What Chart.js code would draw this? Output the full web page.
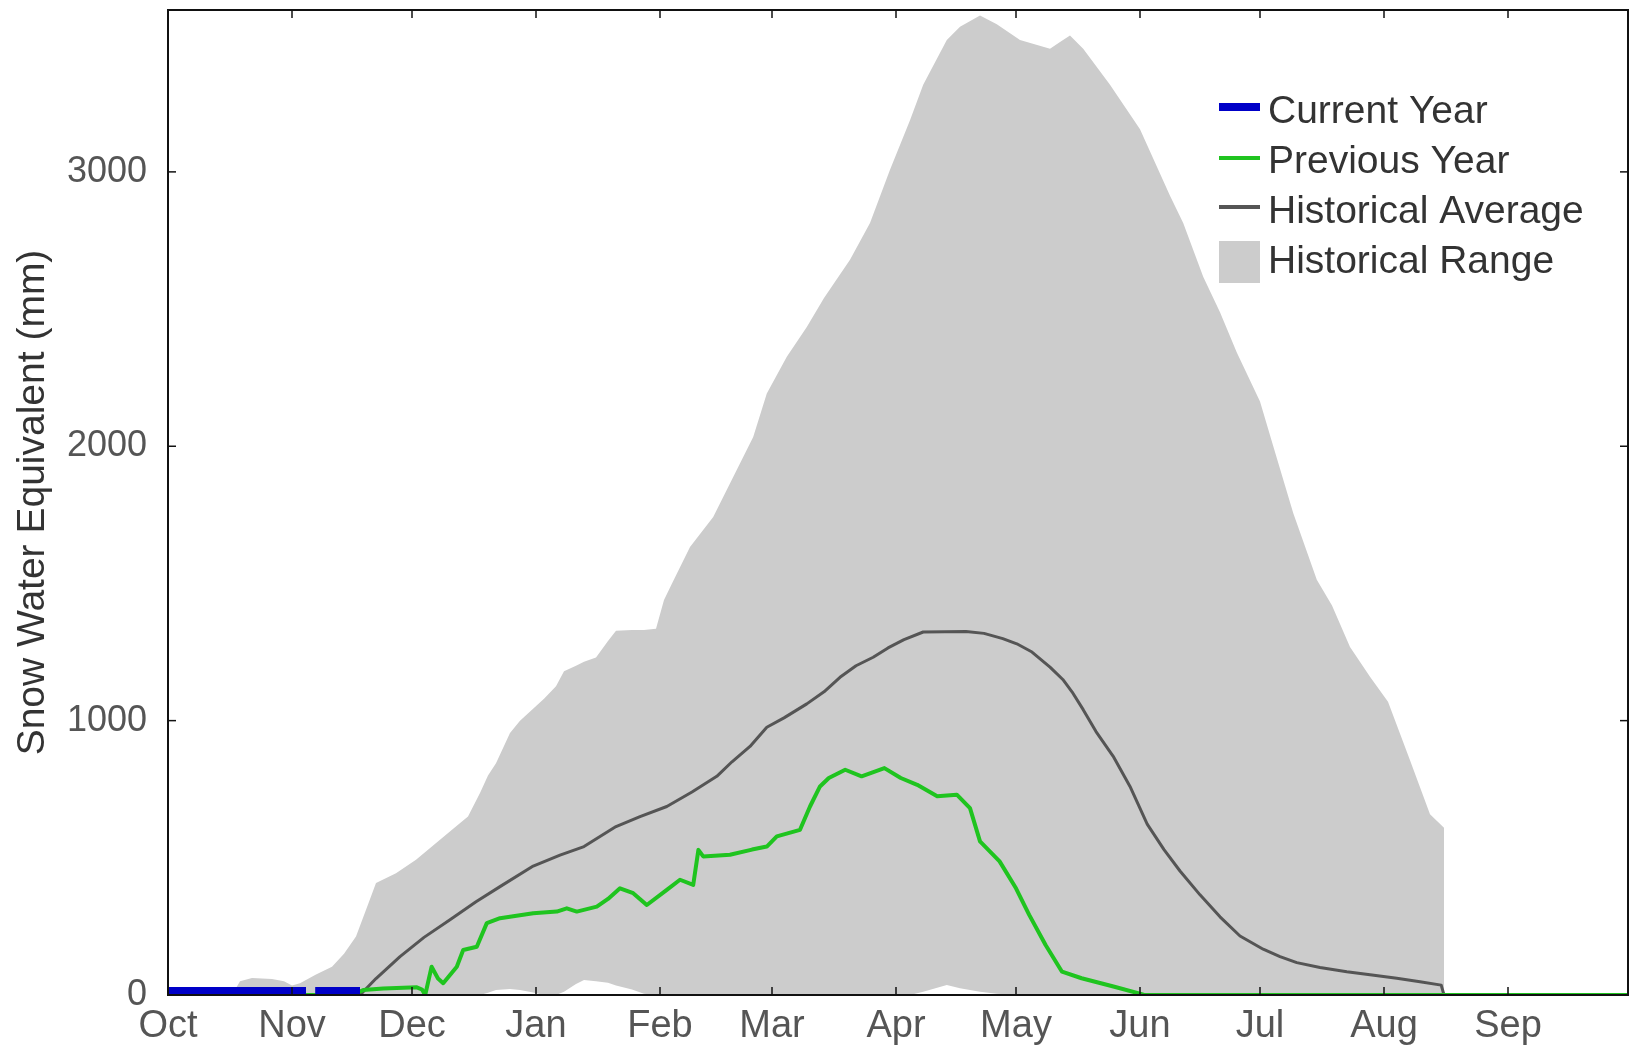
<!DOCTYPE html>
<html>
<head>
<meta charset="utf-8">
<script src="https://cdn.jsdelivr.net/npm/chart.js@4.4.1/dist/chart.umd.min.js"></script>
<style>
  html, body { margin: 0; padding: 0; background: #ffffff; }
  #wrap { width: 1636px; height: 1045px; position: relative; }
</style>
</head>
<body>
<div id="wrap"><canvas id="c" width="1636" height="1045"></canvas></div>
<script>
// ---------------- DATA (day index from Oct 1, values in mm) ----------------
const monthLabels = ['Oct','Nov','Dec','Jan','Feb','Mar','Apr','May','Jun','Jul','Aug','Sep'];
const monthStartDays = [0,31,61,92,123,151,182,212,243,273,304,335,365];
const yTickValues = [0,1000,2000,3000];

const currentDays   = [0, 34.5, 35.5, 36.8, 48];
const currentValues = [0, 0, null, 0, 0];

const prevDays = [0,46,48.8,53.8,62.2,63.5,64.3,65.9,67.5,68.8,72.2,73.8,77.2,79.7,83,91.3,97.2,99.7,102.2,107.2,110,113,116.3,119.7,124.7,128,131.3,132.6,133.8,140.5,146,149.7,152.2,158,160.5,163,165.2,169.3,173.4,179.1,183.2,187.3,192.3,197.2,200.5,203,207.9,212,215.3,219.4,223.5,228.4,236.6,243.2,244,365];
const prevValues = [0,0,18,24,28,20,0,103,60,43,103,164,176,262,280,298,304,316,304,322,350,389,371,328,383,420,401,529,505,511,530,541,578,602,687,760,791,821,797,827,791,766,724,730,681,560,487,389,292,182,85,61,30,4,0,0];

const avgDays = [48,52,58,64,70.5,77,83,91.3,98,104,112,118,124.7,131,137.2,141,145.5,149.7,154,159.7,164,168,172,176.3,180,184,188.8,199.5,204,208.7,212.2,216,220.5,223.7,226,228.8,232,236.3,240.5,244.8,249,253,258,263,268,273.8,278,282.2,288,294.7,301,307.2,313,318.3,319];
const avgValues = [0,60,140,210,274,340,395,470,510,541,614,650,687,740,797,850,906,976,1010,1061,1105,1158,1200,1231,1265,1295,1323,1325,1318,1299,1280,1250,1195,1150,1105,1040,960,870,760,623,530,452,365,285,215,167,140,118,100,85,73,61,48,36,0];

const rangeDays = [0,16,18,21,26,29,31,33,37,41,44,47,50,52,57,62,68,71,75,78,80,82,85.5,88,91,94,97,99,102,104,107,110,112,116,119,122,124,126,130.5,136.3,141.3,146.3,149.7,154.7,159.7,164,170.5,175.5,180.5,185.5,188.8,194.7,198,203,207.2,213,220.5,223,225.5,228.8,235.5,243,250.5,253.8,258.8,263,267.2,273,276.3,281.3,287.2,291,295.5,300.5,305,310.5,315.5,319];
const rangeMax  = [0,0,50,62,58,50,35,43,75,103,150,213,330,408,444,493,566,602,651,736,800,845,955,1000,1040,1080,1125,1180,1200,1215,1230,1290,1328,1330,1330,1335,1440,1500,1633,1742,1888,2034,2192,2326,2435,2540,2680,2814,3008,3188,3318,3481,3529,3570,3538,3481,3449,3473,3497,3449,3318,3155,2913,2814,2618,2488,2342,2163,2001,1757,1513,1420,1268,1160,1069,856,659,610];
const rangeMin  = [0,0,0,0,0,0,0,0,0,0,0,0,0,0,0,0,0,0,0,0,8,18,22,18,10,0,0,12,40,55,50,45,35,20,5,0,0,0,0,0,0,0,0,0,0,0,0,0,0,0,12,36,25,12,5,0,0,0,0,0,0,0,0,0,0,0,0,0,0,0,0,0,0,0,0,0,0,0];

const seriesLabels = ['Current Year','Previous Year','Historical Average','Historical Range'];

// ---------------- CHART ----------------
const pts = (xs, ys) => xs.map((d, i) => ({ x: d, y: ys[i] }));
const FONT = "'Liberation Sans', Arial, Helvetica, sans-serif";
Chart.defaults.font.family = FONT;

const framePlugin = {
  id: 'frame',
  afterDatasetsDraw(chart) {
    const { ctx, chartArea: a, scales: { x, y } } = chart;
    ctx.save();
    ctx.strokeStyle = '#111111';
    ctx.lineWidth = 2;
    ctx.strokeRect(a.left, a.top, a.right - a.left, a.bottom - a.top);
    ctx.lineWidth = 1.5;
    const seg = (x1, y1, x2, y2) => { ctx.beginPath(); ctx.moveTo(x1, y1); ctx.lineTo(x2, y2); ctx.stroke(); };
    x.ticks.forEach(t => {
      const px = x.getPixelForValue(t.value);
      if (px <= a.left + 1 || px >= a.right - 1) return;
      seg(px, a.bottom, px, a.bottom - 8);
      seg(px, a.top, px, a.top + 8);
    });
    y.ticks.forEach(t => {
      const py = y.getPixelForValue(t.value);
      if (py >= a.bottom - 1 || py <= a.top + 1) return;
      seg(a.left, py, a.left + 8, py);
      seg(a.right, py, a.right - 8, py);
    });
    ctx.restore();
  }
};

const legendPlugin = {
  id: 'cornerLegend',
  afterDraw(chart, args, o) {
    const { ctx, chartArea: a } = chart;
    const x0 = a.right - o.offsetRight;
    const textX = x0 + o.markerWidth + o.gap;
    ctx.save();
    ctx.font = o.fontSize + 'px ' + FONT;
    ctx.textBaseline = 'middle';
    ctx.textAlign = 'left';
    let row = 0;
    chart.data.datasets.forEach(ds => {
      if (!ds.label) return;
      const cy = a.top + o.firstRow + row * o.rowGap;
      const m = ds.legendMarker;
      if (m.type === 'box') {
        ctx.fillStyle = ds.backgroundColor;
        ctx.fillRect(x0, cy - m.size / 2, o.markerWidth, m.size);
      } else {
        ctx.strokeStyle = ds.borderColor;
        ctx.lineWidth = m.thickness;
        ctx.beginPath();
        ctx.moveTo(x0, cy + m.dy);
        ctx.lineTo(x0 + o.markerWidth, cy + m.dy);
        ctx.stroke();
      }
      ctx.fillStyle = o.color;
      ctx.fillText(ds.label, textX, cy);
      row++;
    });
    ctx.restore();
  }
};

new Chart(document.getElementById('c'), {
  type: 'line',
  data: {
    datasets: [
      { label: seriesLabels[0], data: pts(currentDays, currentValues), borderColor: '#0000c8', borderWidth: 16,
        pointRadius: 0, fill: false, clip: 0, spanGaps: false, legendMarker: { type: 'line', thickness: 8, dy: -5 } },
      { label: seriesLabels[1], data: pts(prevDays, prevValues), borderColor: '#1fc41f', borderWidth: 4,
        pointRadius: 0, fill: false, borderJoinStyle: 'round', legendMarker: { type: 'line', thickness: 4, dy: -4 } },
      { label: seriesLabels[2], data: pts(avgDays, avgValues), borderColor: '#555555', borderWidth: 3,
        pointRadius: 0, fill: false, borderJoinStyle: 'round', legendMarker: { type: 'line', thickness: 4, dy: -5 } },
      { label: seriesLabels[3], data: pts(rangeDays, rangeMax), borderColor: '#cccccc', borderWidth: 0,
        backgroundColor: '#cccccc', pointRadius: 0, fill: '+1', legendMarker: { type: 'box', size: 42 } },
      { label: '', data: pts(rangeDays, rangeMin), borderColor: '#cccccc', borderWidth: 0,
        pointRadius: 0, fill: false }
    ]
  },
  options: {
    responsive: false,
    animation: false,
    devicePixelRatio: 1,
    layout: { padding: { top: 10, right: 8, left: 0, bottom: 0 } },
    elements: { line: { tension: 0 } },
    plugins: {
      legend: { display: false },
      tooltip: { enabled: false },
      cornerLegend: { offsetRight: 409, markerWidth: 41, gap: 8, firstRow: 102, rowGap: 50, fontSize: 39, color: '#333333' }
    },
    scales: {
      x: {
        type: 'linear', min: 0, max: 365,
        afterBuildTicks: s => { s.ticks = monthStartDays.map(v => ({ value: v })); },
        afterFit: s => { s.height = 50; s.paddingLeft = 0; s.paddingRight = 0; },
        grid: { display: false }, border: { display: false },
        ticks: { color: '#555555', font: { size: 38 }, padding: 1, autoSkip: false, maxRotation: 0, minRotation: 0,
                 callback: (v, i) => monthLabels[i] ?? '' }
      },
      y: {
        type: 'linear', min: 0, max: 3590,
        afterBuildTicks: s => { s.ticks = yTickValues.map(v => ({ value: v })); },
        afterFit: s => { s.width = 168; s.paddingTop = 0; s.paddingBottom = 0; },
        grid: { display: false }, border: { display: false },
        ticks: { color: '#555555', font: { size: 36 }, padding: 13, callback: v => String(v) },
        title: { display: true, text: 'Snow Water Equivalent (mm)', color: '#333333', font: { size: 39 }, padding: { top: 10, bottom: 0 } }
      }
    }
  },
  plugins: [framePlugin, legendPlugin]
});
</script>
</body>
</html>
